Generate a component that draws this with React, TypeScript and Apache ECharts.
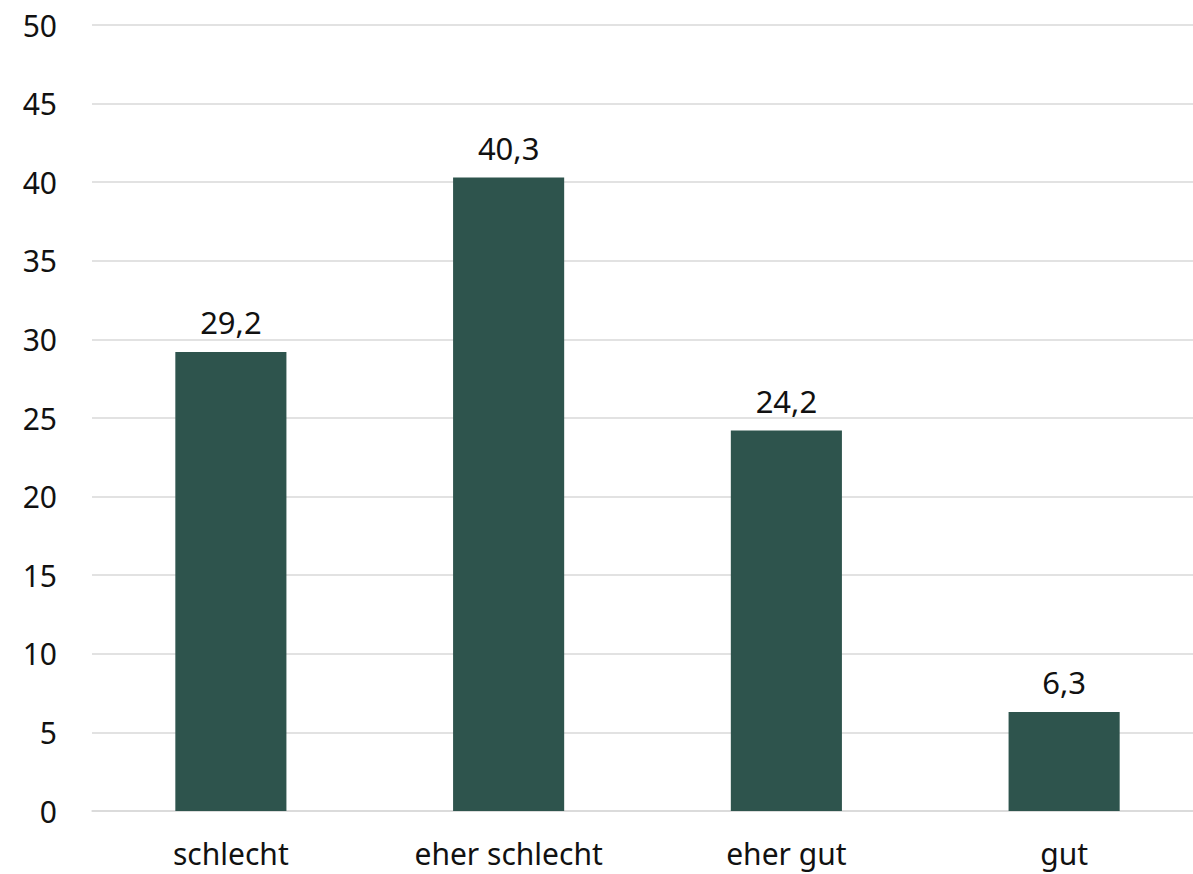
import React, { useEffect, useRef } from "react";
import * as echarts from "echarts";

const categories = ["schlecht", "eher schlecht", "eher gut", "gut"];
const values = [29.2, 40.3, 24.2, 6.3];

export default function App() {
  const ref = useRef<HTMLDivElement>(null);
  useEffect(() => {
    if (!ref.current) return;
    const chart = echarts.init(ref.current, null, { renderer: "svg" });
    const font = "'Noto Sans', sans-serif";
    chart.setOption({
      animation: false,
      grid: { left: 92, width: 1111, top: 25, bottom: 63, outerBoundsMode: "none", containLabel: false },
      xAxis: {
        type: "category",
        data: categories,
        axisLine: { lineStyle: { color: "#d9d9d9", width: 1.5 } },
        axisTick: { show: false },
        axisLabel: { color: "#111", fontSize: 30, lineHeight: 30, fontFamily: font, margin: 27 },
      },
      yAxis: {
        type: "value",
        min: 0,
        max: 50,
        interval: 5,
        axisLine: { show: false },
        axisTick: { show: false },
        splitLine: { lineStyle: { color: "#d9d9d9", width: 1.5 } },
        axisLabel: { color: "#111", fontSize: 30, fontFamily: font, margin: 35 },
      },
      series: [
        {
          type: "bar",
          data: values,
          barWidth: "40%",
          itemStyle: { color: "#2e544d" },
          label: {
            show: true,
            position: "top",
            distance: 14,
            color: "#111",
            fontSize: 31,
            fontFamily: font,
            formatter: (p: any) => String(p.value).replace(".", ","),
          },
        },
      ],
    });
    return () => chart.dispose();
  }, []);
  return (
    <div
      ref={ref}
      style={{ position: "fixed", left: 0, top: 0, width: 1193, height: 874, background: "#fff" }}
    />
  );
}
